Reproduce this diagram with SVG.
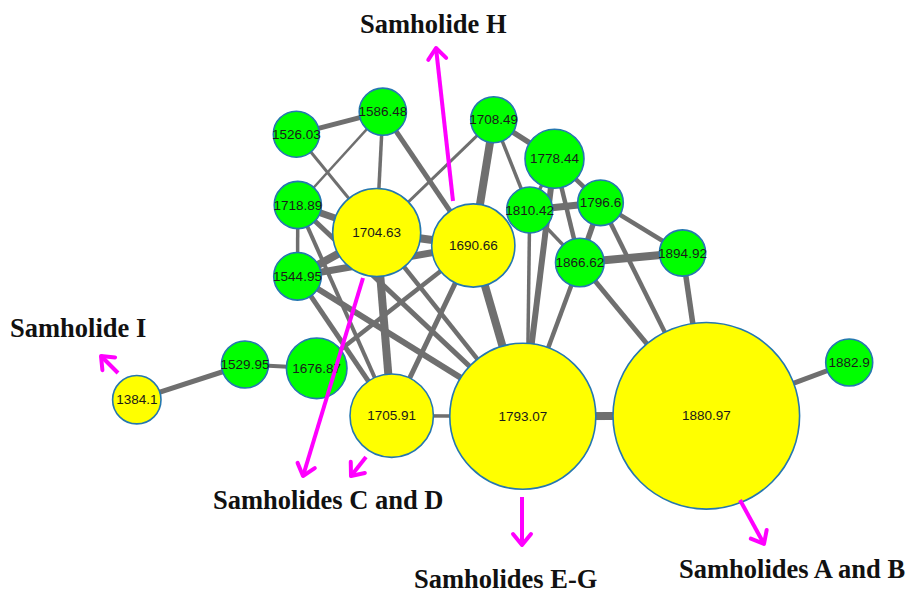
<svg xmlns="http://www.w3.org/2000/svg" width="909" height="593" viewBox="0 0 909 593">
<defs>
<style>
.e{stroke:#6f6f6f;fill:none;stroke-linecap:butt}
.n circle{stroke:#2577b0;stroke-width:1.6}
.g circle{fill:#00ff00}
.y circle{fill:#ffff00}
.n text{font-family:"Liberation Sans",Arial,sans-serif;font-size:13.5px;fill:#1a1a1a;text-anchor:middle;dominant-baseline:central}
.a{stroke:#ff00ff;stroke-width:4;fill:none;marker-end:url(#ah)}
.lbl{font-family:"Liberation Serif","Times New Roman",serif;font-weight:bold;font-size:26.5px;fill:#111}
</style>
<marker id="ah" markerUnits="userSpaceOnUse" markerWidth="30" markerHeight="30" viewBox="-15 -15 30 30" refX="0" refY="0" orient="auto">
<path d="M-11,-9 L0,0 L-11,9" fill="none" stroke="#ff00ff" stroke-width="4" stroke-linecap="round" stroke-linejoin="round"/>
</marker>
</defs>
<rect width="909" height="593" fill="#ffffff"/>
<g id="connectors">
<!-- top-left -->
<line class="e" stroke-width="5" x1="296.3" y1="134.2" x2="382.8" y2="111.7"/>
<line class="e" stroke-width="3" x1="296.3" y1="134.2" x2="376.7" y2="232.5"/>
<line class="e" stroke-width="2.5" x1="382.8" y1="111.7" x2="297.8" y2="205"/>
<line class="e" stroke-width="3.5" x1="382.8" y1="111.7" x2="376.7" y2="232.5"/>
<line class="e" stroke-width="5" x1="382.8" y1="111.7" x2="473.3" y2="245.5"/>
<line class="e" stroke-width="3.5" x1="297.8" y1="205" x2="297.5" y2="276.3"/>
<line class="e" stroke-width="7" x1="297.8" y1="205" x2="376.7" y2="232.5"/>
<line class="e" stroke-width="8" x1="297.5" y1="276.3" x2="376.7" y2="232.5"/>
<line class="e" stroke-width="7" x1="297.5" y1="276.3" x2="473.3" y2="245.5"/>
<line class="e" stroke-width="8" x1="376.7" y1="232.5" x2="473.3" y2="245.5"/>
<!-- left cluster to lower nodes -->
<line class="e" stroke-width="6" x1="297.5" y1="276.3" x2="522.8" y2="416.3"/>
<line class="e" stroke-width="5" x1="297.8" y1="205" x2="522.8" y2="416.3"/>
<line class="e" stroke-width="4.5" x1="376.7" y1="232.5" x2="522.8" y2="416.3"/>
<line class="e" stroke-width="5" x1="297.5" y1="276.3" x2="391.7" y2="415.7"/>
<line class="e" stroke-width="4" x1="297.8" y1="205" x2="391.7" y2="415.7"/>
<line class="e" stroke-width="8" x1="376.7" y1="232.5" x2="391.7" y2="415.7"/>
<line class="e" stroke-width="5" x1="473.3" y1="245.5" x2="391.7" y2="415.7"/>
<line class="e" stroke-width="4.5" x1="473.3" y1="245.5" x2="316.7" y2="368.3"/>
<line class="e" stroke-width="8" x1="473.3" y1="245.5" x2="522.8" y2="416.3"/>
<line class="e" stroke-width="3.5" x1="391.7" y1="415.7" x2="522.8" y2="416.3"/>
<!-- 1708.49 -->
<line class="e" stroke-width="3" x1="493.7" y1="119.7" x2="376.7" y2="232.5"/>
<line class="e" stroke-width="8" x1="493.7" y1="119.7" x2="473.3" y2="245.5"/>
<line class="e" stroke-width="3.5" x1="493.7" y1="119.7" x2="529.7" y2="210"/>
<line class="e" stroke-width="5.5" x1="493.7" y1="119.7" x2="554.5" y2="158.8"/>
<!-- right cluster -->
<line class="e" stroke-width="3.5" x1="554.5" y1="158.8" x2="529.7" y2="210"/>
<line class="e" stroke-width="4.5" x1="554.5" y1="158.8" x2="600.5" y2="202.8"/>
<line class="e" stroke-width="4.5" x1="554.5" y1="158.8" x2="579.8" y2="262.5"/>
<line class="e" stroke-width="6" x1="554.5" y1="158.8" x2="522.8" y2="416.3"/>
<line class="e" stroke-width="7" x1="529.7" y1="210" x2="600.5" y2="202.8"/>
<line class="e" stroke-width="3.5" x1="529.7" y1="210" x2="527" y2="416.3"/>
<line class="e" stroke-width="3.5" x1="529.7" y1="210" x2="579.8" y2="262.5"/>
<line class="e" stroke-width="5.5" x1="600.5" y1="202.8" x2="579.8" y2="262.5"/>
<line class="e" stroke-width="4.5" x1="600.5" y1="202.8" x2="682.5" y2="253"/>
<line class="e" stroke-width="4.5" x1="600.5" y1="202.8" x2="706.3" y2="415.8"/>
<line class="e" stroke-width="8" x1="579.8" y1="262.5" x2="682.5" y2="253"/>
<line class="e" stroke-width="5" x1="579.8" y1="262.5" x2="706.3" y2="415.8"/>
<line class="e" stroke-width="4.5" x1="579.8" y1="262.5" x2="522.8" y2="416.3"/>
<line class="e" stroke-width="5.5" x1="682.5" y1="253" x2="706.3" y2="415.8"/>
<line class="e" stroke-width="5" x1="706.3" y1="415.8" x2="849.2" y2="362.5"/>
<line class="e" stroke-width="8" x1="522.8" y1="416.3" x2="706.3" y2="415.8"/>
<!-- far left -->
<line class="e" stroke-width="5" x1="136.8" y1="399.7" x2="245" y2="364.5"/>
<line class="e" stroke-width="4" x1="245" y1="364.5" x2="316.7" y2="368.3"/>
</g>
<g id="n1526_03" class="n g"><circle cx="296.3" cy="134.2" r="23"/><text x="296.3" y="134.2">1526.03</text></g>
<g id="n1586_48" class="n g"><circle cx="382.8" cy="111.7" r="23.6"/><text x="382.8" y="111.7">1586.48</text></g>
<g id="n1708_49" class="n g"><circle cx="493.7" cy="119.7" r="23"/><text x="493.7" y="119.7">1708.49</text></g>
<g id="n1778_44" class="n g"><circle cx="554.5" cy="158.8" r="29.5"/><text x="554.5" y="158.8">1778.44</text></g>
<g id="n1718_89" class="n g"><circle cx="297.8" cy="205" r="23.6"/><text x="297.8" y="205">1718.89</text></g>
<g id="n1810_42" class="n g"><circle cx="529.7" cy="210" r="23"/><text x="529.7" y="210">1810.42</text></g>
<g id="n1796_6" class="n g"><circle cx="600.5" cy="202.8" r="22.8"/><text x="600.5" y="202.8">1796.6</text></g>
<g id="n1866_62" class="n g"><circle cx="579.8" cy="262.5" r="24.3"/><text x="579.8" y="262.5">1866.62</text></g>
<g id="n1894_92" class="n g"><circle cx="682.5" cy="253" r="23.1"/><text x="682.5" y="253">1894.92</text></g>
<g id="n1544_95" class="n g"><circle cx="297.5" cy="276.3" r="23.8"/><text x="297.5" y="276.3">1544.95</text></g>
<g id="n1529_95" class="n g"><circle cx="245" cy="364.5" r="23.5"/><text x="245" y="364.5">1529.95</text></g>
<g id="n1676_87" class="n g"><circle cx="316.7" cy="368.3" r="30.3"/><text x="316.7" y="368.3">1676.87</text></g>
<g id="n1882_9" class="n g"><circle cx="849.2" cy="362.5" r="23.5"/><text x="849.2" y="362.5">1882.9</text></g>
<g id="n1704_63" class="n y"><circle cx="376.7" cy="232.5" r="44"/><text x="376.7" y="232.5">1704.63</text></g>
<g id="n1690_66" class="n y"><circle cx="473.3" cy="245.5" r="41.6"/><text x="473.3" y="245.5">1690.66</text></g>
<g id="n1384_1" class="n y"><circle cx="136.8" cy="399.7" r="24.2"/><text x="136.8" y="399.7">1384.1</text></g>
<g id="n1705_91" class="n y"><circle cx="391.7" cy="415.7" r="41.7"/><text x="391.7" y="415.7">1705.91</text></g>
<g id="n1793_07" class="n y"><circle cx="522.8" cy="416.3" r="73"/><text x="522.8" y="416.3">1793.07</text></g>
<g id="n1880_97" class="n y"><circle cx="706.3" cy="415.8" r="93.3"/><text x="706.3" y="415.8">1880.97</text></g>
<g id="annotations">
<line class="a" x1="453" y1="201" x2="436" y2="48"/>
<line class="a" x1="118" y1="373" x2="101" y2="356"/>
<line class="a" x1="363" y1="278" x2="303" y2="476"/>
<line class="a" x1="366" y1="457" x2="351" y2="476"/>
<line class="a" x1="522" y1="497" x2="522" y2="545"/>
<line class="a" x1="740" y1="500" x2="764" y2="544"/>
<text class="lbl" x="360" y="33">Samholide H</text>
<text class="lbl" x="10" y="337">Samholide I</text>
<text class="lbl" x="213" y="509">Samholides C and D</text>
<text class="lbl" x="414" y="588">Samholides E-G</text>
<text class="lbl" x="679" y="578">Samholides A and B</text>
</g>
</svg>
